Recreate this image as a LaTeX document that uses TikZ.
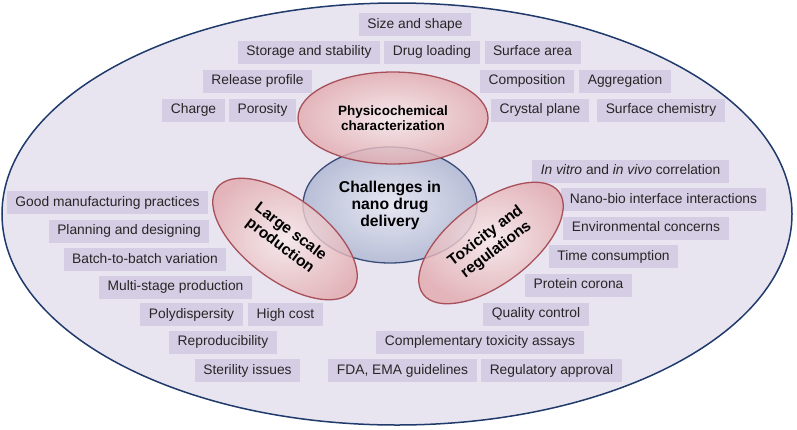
\documentclass[tikz,border=0pt]{standalone}
\usepackage{fontspec}
\setmainfont{Liberation Sans}
\usetikzlibrary{shapes.geometric}
\definecolor{framefill}{HTML}{E9E5F0}
\definecolor{frameline}{HTML}{1F3A6B}
\definecolor{tagfill}{HTML}{D5CDE3}
\definecolor{pinkin}{HTML}{F8EAEA}
\definecolor{pinkout}{HTML}{E2AAAE}
\definecolor{pinkline}{HTML}{A8505A}
\definecolor{bluein}{HTML}{E6E8F2}
\definecolor{blueout}{HTML}{B0B8D3}
\definecolor{blueline}{HTML}{3A4C78}
\begin{document}
\begin{tikzpicture}[x=1pt,y=-1pt,
    frame/.style={ellipse, draw=frameline, line width=1.5pt, fill=framefill,
      minimum width=790pt, minimum height=422pt, inner sep=0pt},
    tag/.style={fill=tagfill, inner xsep=8.5pt, inner ysep=0pt, minimum height=23pt,
      text height=10pt, text depth=3pt, text=black!85,
      font=\fontsize{13.8}{16}\selectfont},
    theme/.style={ellipse, draw=pinkline, line width=1.3pt, inner color=pinkin,
      outer color=pinkout, fill opacity=0.8, text opacity=1, inner sep=0pt,
      minimum width=170pt, minimum height=82pt, align=center,
      font=\bfseries\fontsize{15.5}{17.5}\selectfont},
    hub/.style={ellipse, draw=blueline, line width=1.3pt, inner color=bluein,
      outer color=blueout, fill opacity=0.85, text opacity=1, inner sep=0pt,
      minimum width=174pt, minimum height=116pt, align=center,
      font=\bfseries\fontsize{15.7}{17}\selectfont}]
    \useasboundingbox (0,0) rectangle (797,429);

    \node[frame] (outer) at (397,214) {};

    % physicochemical
    \node[tag] (size) at (415,24.5) {Size and shape};
    \node[tag] (storage) at (309,52) {Storage and stability};
    \node[tag] (drugload) at (432,52) {Drug loading};
    \node[tag] (surfarea) at (532.5,52) {Surface area};
    \node[tag] (release) at (257.5,81) {Release profile};
    \node[tag] (composition) at (527,81) {Composition};
    \node[tag] (aggregation) at (625,81) {Aggregation};
    \node[tag] (charge) at (193.5,110) {Charge};
    \node[tag] (porosity) at (262.5,110) {Porosity};
    \node[tag] (crystal) at (540,110) {Crystal plane};
    \node[tag] (surfchem) at (661,110) {Surface chemistry};

    % large scale production
    \node[tag] (gmp) at (107.5,202.5) {Good manufacturing practices};
    \node[tag] (planning) at (129,231) {Planning and designing};
    \node[tag] (batch) at (145,259.5) {Batch-to-batch variation};
    \node[tag] (multistage) at (175.5,287) {Multi-stage production};
    \node[tag] (polydisp) at (191.5,314.5) {Polydispersity};
    \node[tag] (highcost) at (285.5,314.5) {High cost};
    \node[tag] (reprod) at (223,342) {Reproducibility};
    \node[tag] (sterility) at (247.5,370.5) {Sterility issues};

    % toxicity and regulations
    \node[tag] (invitro) at (630.5,171) {{\itshape In vitro} and {\itshape in vivo} correlation};
    \node[tag] (nanobio) at (663.5,199.5) {Nano-bio interface interactions};
    \node[tag] (environ) at (646,228) {Environmental concerns};
    \node[tag] (timecons) at (613.5,256.5) {Time consumption};
    \node[tag] (corona) at (578.5,285) {Protein corona};
    \node[tag] (quality) at (536,314) {Quality control};
    \node[tag] (compl) at (480,342) {Complementary toxicity assays};
    \node[tag] (fda) at (402.5,370.5) {FDA, EMA guidelines};
    \node[tag] (regul) at (551.5,370.5) {Regulatory approval};

    \node[hub] (hub) at (390,205) {Challenges in\\nano drug\\delivery};
    \node[theme, minimum width=190pt, minimum height=92pt,
      font=\bfseries\fontsize{13.5}{15.5}\selectfont] (physchem) at (393,118)
      {Physicochemical\\characterization};
    \node[theme, rotate=-37] (largescale) at (285,239) {Large scale\\production};
    \node[theme, rotate=37] (toxicity) at (491,243) {Toxicity and\\regulations};
\end{tikzpicture}
\end{document}
